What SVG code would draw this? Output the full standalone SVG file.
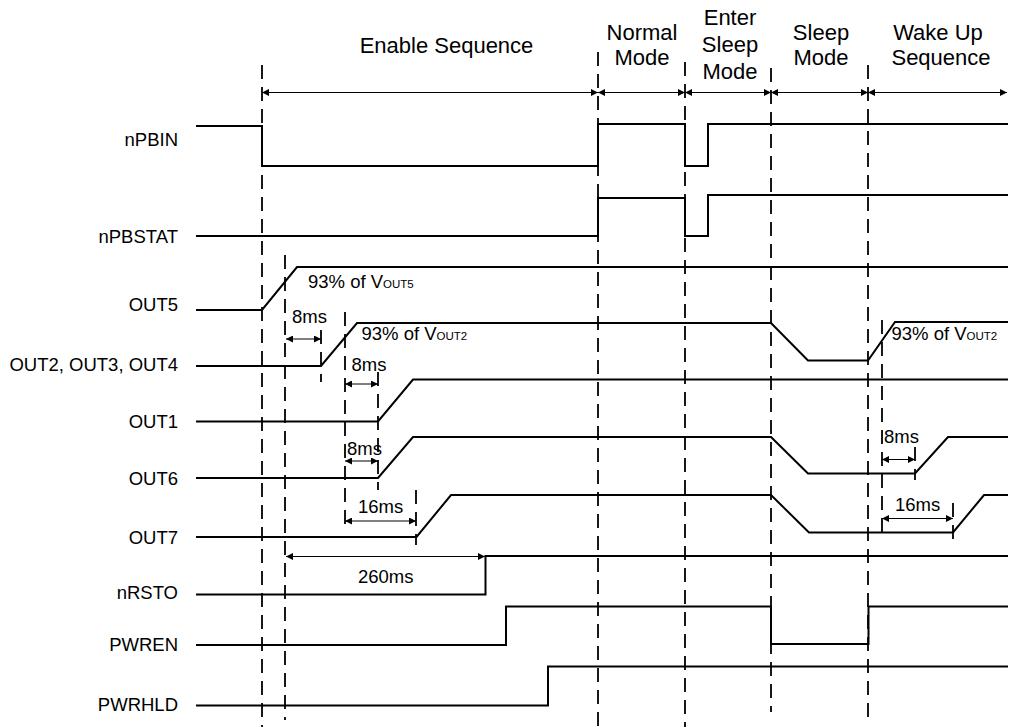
<svg xmlns="http://www.w3.org/2000/svg" width="1009" height="727" viewBox="0 0 1009 727">
<style>
text{font-family:"Liberation Sans",Arial,sans-serif;fill:#000}
.hdr{font-size:22px;text-anchor:middle}
.lbl{font-size:18.5px;text-anchor:end}
.ann{font-size:18.5px}
.sub{font-size:11.5px}
.sig{fill:none;stroke:#000;stroke-width:2}
.dash{fill:none;stroke:#000;stroke-width:1.8;stroke-dasharray:14 8}
.dim{fill:none;stroke:#000;stroke-width:1;marker-start:url(#ah);marker-end:url(#ah)}
</style>
<defs>
<marker id="ah" markerUnits="userSpaceOnUse" markerWidth="7" markerHeight="7" refX="7" refY="3.5" orient="auto-start-reverse">
<path d="M0,0 L7,3.5 L0,7 z" fill="#000"/>
</marker>
</defs>
<rect width="1009" height="727" fill="#fff"/>
<g id="headers">
<text class="hdr" x="446.5" y="52.7">Enable Sequence</text>
<text class="hdr" x="642" y="39.5">Normal</text>
<text class="hdr" x="642" y="64.5">Mode</text>
<text class="hdr" x="730" y="25">Enter</text>
<text class="hdr" x="730" y="52">Sleep</text>
<text class="hdr" x="730" y="78.5">Mode</text>
<text class="hdr" x="821" y="39.5">Sleep</text>
<text class="hdr" x="821" y="64.5">Mode</text>
<text class="hdr" x="938" y="39.5">Wake Up</text>
<text class="hdr" x="941" y="65">Sequence</text>
</g>
<g id="connectors">
<path class="dash" d="M262,65 V727"/>
<path class="dash" d="M285,255 V720"/>
<path class="dash" d="M598,52 V727"/>
<path class="dash" d="M685,62 V727"/>
<path class="dash" d="M771,68 V712"/>
<path class="dash" d="M868,65 V720"/>
<path class="dash" d="M321,330 V382"/>
<path class="dash" d="M345,312 V528"/>
<path class="dash" d="M378,372 V490"/>
<path class="dash" d="M416,490 V545"/>
<path class="dash" d="M882,320 V540"/>
<path class="dash" d="M915,447 V480"/>
<path class="dash" d="M953,503 V540"/>
<path class="dim" d="M262,92.5 H598"/>
<path class="dim" d="M598,92.5 H685"/>
<path class="dim" d="M685,92.5 H771"/>
<path class="dim" d="M771,92.5 H868"/>
<path class="dim" d="M868,92.5 H1007"/>
<path class="dim" d="M286,339 H321"/>
<path class="dim" d="M345,384 H378"/>
<path class="dim" d="M345,461 H378"/>
<path class="dim" d="M882,459.5 H915"/>
<path class="dim" d="M345,521 H416"/>
<path class="dim" d="M882,518.5 H953"/>
<path class="dim" d="M286,556.5 H485"/>
</g>
<g id="nPBIN">
<text class="lbl" x="178" y="145.5">nPBIN</text>
<path class="sig" d="M196,126 H262 V166 H598 V124 H685 V166 H708 V124 H1008"/>
</g>
<g id="nPBSTAT">
<text class="lbl" x="178" y="243">nPBSTAT</text>
<path class="sig" d="M196,236 H598 V198 H685 V236 H708 V195 H1008"/>
</g>
<g id="OUT5">
<text class="lbl" x="178" y="311">OUT5</text>
<path class="sig" d="M196,310 H262 L297,267 H1008"/>
<text class="ann" x="308" y="288">93% of V<tspan class="sub">OUT5</tspan></text>
</g>
<g id="OUT2">
<text class="lbl" x="178" y="370.5">OUT2, OUT3, OUT4</text>
<path class="sig" d="M196,366 H321 L357,323 H771 L808,360.5 H868 L895,322 H1008"/>
<text class="ann" x="292" y="323">8ms</text>
<text class="ann" x="361.5" y="340">93% of V<tspan class="sub">OUT2</tspan></text>
<text class="ann" x="891.5" y="340">93% of V<tspan class="sub">OUT2</tspan></text>
</g>
<g id="OUT1">
<text class="lbl" x="178" y="428">OUT1</text>
<path class="sig" d="M196,421.5 H378 L413,379.5 H1008"/>
<text class="ann" x="351.5" y="370.5">8ms</text>
</g>
<g id="OUT6">
<text class="lbl" x="178" y="485">OUT6</text>
<path class="sig" d="M196,478 H378 L413,437 H771 L808,473.5 H915 L948,437 H1008"/>
<text class="ann" x="347" y="455">8ms</text>
<text class="ann" x="884" y="443">8ms</text>
</g>
<g id="OUT7">
<text class="lbl" x="178" y="544">OUT7</text>
<path class="sig" d="M196,537 H416.5 L451,495 H771 L809,532.5 H953 L984,495 H1008"/>
<text class="ann" x="358" y="513">16ms</text>
<text class="ann" x="895" y="511">16ms</text>
</g>
<g id="nRSTO">
<text class="lbl" x="178" y="599">nRSTO</text>
<path class="sig" d="M196,594.5 H485.5 V556 H1008"/>
<text class="ann" x="358" y="583">260ms</text>
</g>
<g id="PWREN">
<text class="lbl" x="178" y="650.5">PWREN</text>
<path class="sig" d="M196,645 H506 V606.5 H771 V644 H868.5 V606.5 H1008"/>
</g>
<g id="PWRHLD">
<text class="lbl" x="178" y="710.5">PWRHLD</text>
<path class="sig" d="M196,705.5 H548 V666.5 H1008"/>
</g>
</svg>
